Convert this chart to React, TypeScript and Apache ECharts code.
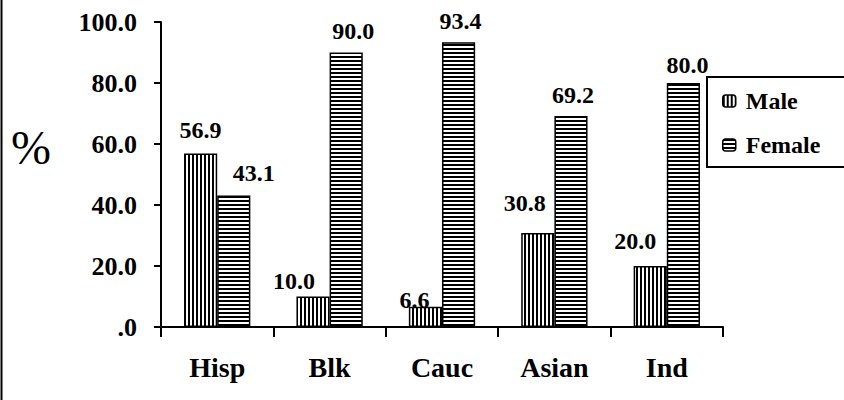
import React, { useEffect, useRef } from "react";
import * as echarts from "echarts";

const categories = ["Hisp", "Blk", "Cauc", "Asian", "Ind"];
const maleValues = [56.9, 10.0, 6.6, 30.8, 20.0];
const femaleValues = [43.1, 90.0, 93.4, 69.2, 80.0];
const seriesNames = ["Male", "Female"];
const yMin = 0;
const yMax = 100;
const yStep = 20;

// label nudges (styling only)
const maleLabelOffsets = [[0, -2], [-19, 5], [-11, 14], [-13, -9], [-15, -4]];
const femaleLabelOffsets = [[20, -2], [7, -1], [2, 0], [2, 0], [4, 3]];

function stripes(vertical: boolean) {
  const c = document.createElement("canvas");
  c.width = 4;
  c.height = 4;
  const ctx = c.getContext("2d")!;
  ctx.fillStyle = "#fff";
  ctx.fillRect(0, 0, 4, 4);
  ctx.fillStyle = "#000";
  if (vertical) ctx.fillRect(0, 0, 2, 4);
  else ctx.fillRect(0, 0, 4, 2);
  return { image: c, repeat: "repeat", imageWidth: 4, imageHeight: 4 } as any;
}

const FONT = "Times New Roman, Liberation Serif, DejaVu Serif, serif";

export default function App() {
  const ref = useRef<HTMLDivElement>(null);
  useEffect(() => {
    if (!ref.current) return;
    const chart = echarts.init(ref.current, undefined, { renderer: "svg" });
    const malePattern = stripes(true);
    const femalePattern = stripes(false);
    const labelBase = {
      show: true,
      position: "top",
      distance: 9,
      fontFamily: FONT,
      fontWeight: "bold",
      fontSize: 24,
      color: "#000",
      formatter: (p: any) => Number(p.value).toFixed(1),
    };
    chart.setOption({
      animation: false,
      backgroundColor: "#fff",
      textStyle: { fontFamily: FONT },
      grid: { left: 161, right: 121, top: 22, bottom: 73, containLabel: false },
      legend: {
        orient: "vertical",
        left: 707,
        top: 77,
        padding: [12, 30, 10, 15],
        itemGap: 20,
        itemWidth: 13,
        itemHeight: 12,
        borderColor: "#000",
        borderWidth: 2,
        borderRadius: 0,
        data: seriesNames,
        itemStyle: { borderColor: "#000", borderWidth: 1.5 },
        textStyle: {
          fontFamily: FONT,
          fontWeight: "bold",
          fontSize: 24,
          color: "#000",
          padding: [0, 0, 0, 5],
        },
      },
      xAxis: {
        type: "category",
        data: categories,
        boundaryGap: true,
        axisLine: { lineStyle: { color: "#000", width: 2 } },
        axisTick: { show: true, length: 10, alignWithLabel: false, lineStyle: { color: "#000", width: 2 } },
        axisLabel: {
          margin: 26,
          fontFamily: FONT,
          fontWeight: "bold",
          fontSize: 28,
          color: "#000",
        },
      },
      yAxis: {
        type: "value",
        min: yMin,
        max: yMax,
        interval: yStep,
        splitLine: { show: false },
        axisLine: { show: true, lineStyle: { color: "#000", width: 2 } },
        axisTick: { show: true, length: 7, lineStyle: { color: "#000", width: 2 } },
        axisLabel: {
          margin: 24,
          fontFamily: FONT,
          fontWeight: "bold",
          fontSize: 26,
          color: "#000",
          formatter: (v: number) => (v === 0 ? ".0" : v.toFixed(1)),
        },
      },
      series: [
        {
          name: seriesNames[0],
          type: "bar",
          barGap: "0%",
          barCategoryGap: "41%",
          itemStyle: { color: malePattern, borderColor: "#000", borderWidth: 1.5 },
          label: labelBase,
          data: maleValues.map((v, i) => ({ value: v, label: { offset: maleLabelOffsets[i] } })),
        },
        {
          name: seriesNames[1],
          type: "bar",
          barGap: "0%",
          barCategoryGap: "41%",
          itemStyle: { color: femalePattern, borderColor: "#000", borderWidth: 1.5 },
          label: labelBase,
          data: femaleValues.map((v, i) => ({ value: v, label: { offset: femaleLabelOffsets[i] } })),
        },
      ],
      graphic: [
        {
          type: "line",
          shape: { x1: 1.5, y1: 0, x2: 1.5, y2: 400 },
          style: { stroke: "#000", lineWidth: 2 },
        },
        {
          type: "text",
          x: 31,
          y: 147,
          style: {
            text: "%",
            fontFamily: FONT,
            fontSize: 48,
            fill: "#000",
            align: "center",
            verticalAlign: "middle",
          },
        },
      ],
    });
    return () => chart.dispose();
  }, []);
  return (
    <div
      ref={ref}
      style={{ position: "fixed", left: 0, top: 0, width: 844, height: 400, background: "#fff" }}
    />
  );
}
